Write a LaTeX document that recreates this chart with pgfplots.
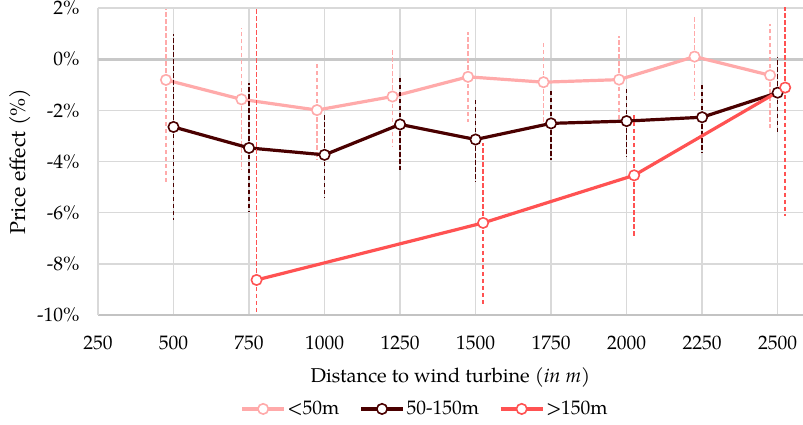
\documentclass[border=0pt]{standalone}
\usepackage{fontspec}
\setmainfont{TeX Gyre Pagella}
\usepackage{pgfplots}
\pgfplotsset{compat=1.18}
\definecolor{cLight}{HTML}{FFAAAA}
\definecolor{cDark}{HTML}{4A0000}
\definecolor{cRed}{HTML}{FF5252}
\definecolor{cGrid}{HTML}{D9D9D9}
\definecolor{cZero}{HTML}{C8C8C8}
\begin{document}
\begin{tikzpicture}
\begin{axis}[
  scale only axis, width=705pt, height=307pt,
  xmin=250, xmax=2584, ymin=-10, ymax=2,
  xtick={250,500,750,1000,1250,1500,1750,2000,2250,2500},
  xticklabels={250,500,750,1000,1250,1500,1750,2000,2250,2500},
  ytick={-10,-8,-6,-4,-2,0,2},
  yticklabels={-10\%,-8\%,-6\%,-4\%,-2\%,0\%,2\%},
  major tick length=0pt,
  grid=major, major grid style={cGrid, line width=1.4pt},
  axis x line=bottom, axis y line=left,
  axis line style={-, cGrid, line width=1.4pt},
  x axis line style={draw=cGrid!90!black},
  tick label style={font=\fontsize{19.5}{22}\selectfont, text=black},
  xticklabel style={anchor=center, yshift=-28pt},
  yticklabel style={anchor=east, xshift=-15pt},
  xlabel={Distance to wind turbine \textit{(in m)}},
  ylabel={Price effect (\%)},
  x label style={at={(axis description cs:0.5,-0.205)}, anchor=center, font=\fontsize{20}{24}\selectfont},
  y label style={at={(axis description cs:-0.1106,0.5)}, anchor=center, font=\fontsize{21.5}{24}\selectfont},
  legend columns=3,
  legend style={draw=none, fill=none, at={(axis description cs:0.464,-0.306)}, anchor=center,
    font=\fontsize{19.5}{22}\selectfont,
    /tikz/every even column/.append style={column sep=18pt}},
  legend image code/.code={\draw[mark repeat=2,mark phase=2,#1] plot coordinates {(0pt,0pt) (21pt,0pt) (42pt,0pt)};},
  clip=true,
]
\addplot[cZero, line width=3pt, forget plot] coordinates {(250,0) (2584,0)};

\addplot[cLight, line width=3.2pt, mark=*, mark size=5.2pt,
  mark options={solid, fill=white, draw=cLight, line width=1.6pt},
  error bars/.cd, y dir=both, y explicit, error mark=none,
  error bar style={cLight, line width=1.5pt, dash pattern=on 4.5pt off 2.5pt}]
coordinates {
 (475,-0.81) += (0,2.77) -= (0,4.05)
 (725,-1.57) += (0,2.77) -= (0,2.77)
 (975,-1.99) += (0,1.86) -= (0,1.93)
 (1225,-1.46) += (0,1.81) -= (0,1.94)
 (1475,-0.69) += (0,1.74) -= (0,1.77)
 (1725,-0.90) += (0,1.59) -= (0,1.70)
 (1975,-0.80) += (0,1.69) -= (0,1.60)
 (2225,0.10) += (0,1.57) -= (0,1.67)
 (2475,-0.63) += (0,1.99) -= (0,2.05)
};
\addlegendentry{<50m}

\addplot[cDark, line width=3.2pt, mark=*, mark size=5.2pt,
  mark options={solid, fill=white, draw=cDark, line width=1.6pt},
  error bars/.cd, y dir=both, y explicit, error mark=none,
  error bar style={cDark, line width=1.5pt, dash pattern=on 4.5pt off 2.5pt}]
coordinates {
 (500,-2.65) += (0,3.63) -= (0,3.62)
 (750,-3.47) += (0,2.52) -= (0,2.50)
 (1000,-3.74) += (0,1.58) -= (0,1.68)
 (1250,-2.55) += (0,1.90) -= (0,1.80)
 (1500,-3.14) += (0,1.60) -= (0,1.67)
 (1750,-2.51) += (0,1.31) -= (0,1.45)
 (2000,-2.42) += (0,1.35) -= (0,1.41)
 (2250,-2.27) += (0,1.33) -= (0,1.39)
 (2500,-1.31) += (0,1.41) -= (0,1.56)
};
\addlegendentry{50-150m}

\addplot[cRed, line width=3.2pt, mark=*, mark size=5.2pt,
  mark options={solid, fill=white, draw=cRed, line width=1.6pt},
  error bars/.cd, y dir=both, y explicit, error mark=none,
  error bar style={cRed, line width=1.5pt, dash pattern=on 4.5pt off 2.5pt}]
coordinates {
 (775,-8.63) += (0,11.0) -= (0,2.0)
 (1525,-6.40) += (0,3.14) -= (0,3.20)
 (2025,-4.54) += (0,2.38) -= (0,2.39)
 (2525,-1.11) += (0,4.0) -= (0,5.01)
};
\addlegendentry{>150m}
\end{axis}
\pgfresetboundingbox
\path[use as bounding box] (-98pt,-110pt) rectangle (705pt,315pt);
\end{tikzpicture}
\end{document}
